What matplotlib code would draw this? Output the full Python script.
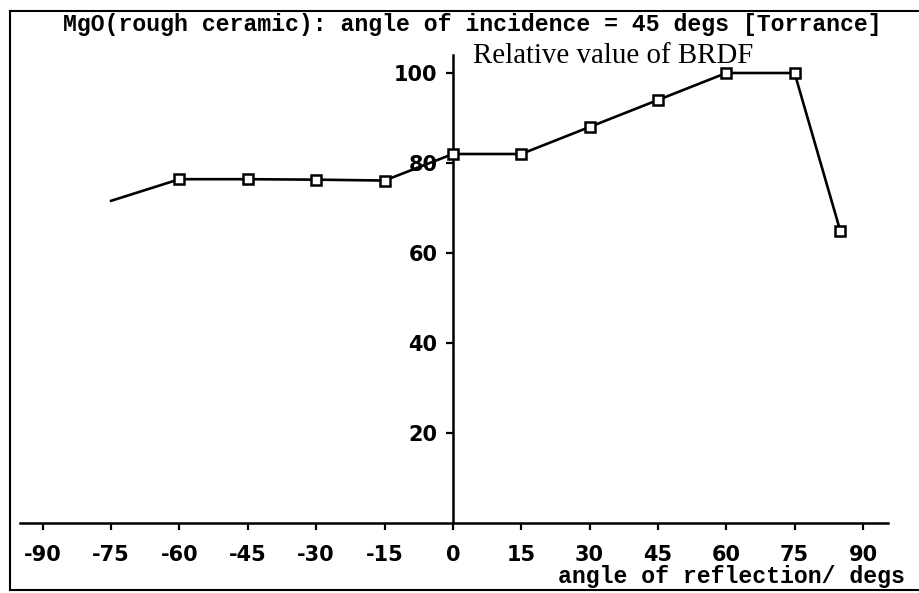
import matplotlib
matplotlib.use("Agg")
import matplotlib.pyplot as plt
from matplotlib.lines import Line2D

plt.rcParams["axes.unicode_minus"] = False

# BRDF of rough MgO ceramic, incidence 45 degrees (Torrance)
angles = [-75, -60, -45, -30, -15, 0, 15, 30, 45, 60, 75, 85]
brdf = [71.6, 76.4, 76.4, 76.3, 76.1, 82, 82, 88, 94, 100, 100, 65]
x_ticks = [-90, -75, -60, -45, -30, -15, 0, 15, 30, 45, 60, 75, 90]
y_ticks = [20, 40, 60, 80, 100]

title = "MgO(rough ceramic): angle of incidence = 45 degs [Torrance]"
ylabel = "Relative value of BRDF"
xlabel = "angle of reflection/ degs"

W, H = 919, 593
fig = plt.figure(figsize=(W / 100, H / 100), dpi=100)
fig.patch.set_facecolor("white")

ax = fig.add_axes([20 / W, (H - 523) / H, 868 / W, 468 / H])
ax.set_xlim(-95, 95.5)
ax.set_ylim(0, 104)

for s in ("top", "right"):
    ax.spines[s].set_visible(False)
ax.spines["left"].set_position(("data", 0))
ax.spines["left"].set_linewidth(1.8)
ax.spines["bottom"].set_linewidth(1.8)

ax.plot(angles, brdf, color="black", lw=1.9, marker="s", ms=7.5,
        mfc="white", mec="black", mew=1.8, markevery=list(range(1, len(angles))),
        zorder=3)

ax.set_xticks(x_ticks)
ax.set_xticklabels([str(v) for v in x_ticks])
ax.set_yticks(y_ticks)
ax.set_yticklabels([str(v) for v in y_ticks])
ax.tick_params(axis="x", direction="out", length=5, width=1.6, pad=11,
               labelsize=15)
ax.tick_params(axis="y", direction="out", length=5, width=1.6, pad=6,
               labelsize=15)
for lab in ax.get_xticklabels() + ax.get_yticklabels():
    lab.set_fontweight("bold")
    lab.set_family("DejaVu Sans")

fig.text(472 / W, 1 - 25 / H, title, ha="center", va="center",
         family="Liberation Mono", fontweight="bold", fontsize=16.7)
fig.text(473 / W, 1 - 63 / H, ylabel, ha="left", va="baseline",
         family="Liberation Serif", fontsize=20.8)
fig.text(905 / W, 1 - 576 / H, xlabel, ha="right", va="center",
         family="Liberation Mono", fontweight="bold", fontsize=16.7)

# outer frame
fig.add_artist(Line2D([10 / W, 10 / W], [1 - 11 / H, 1 - 590 / H],
                      transform=fig.transFigure, color="black", lw=1.5))
fig.add_artist(Line2D([10 / W, 1.0], [1 - 11 / H, 1 - 11 / H],
                      transform=fig.transFigure, color="black", lw=1.5))
fig.add_artist(Line2D([10 / W, 1.0], [1 - 590 / H, 1 - 590 / H],
                      transform=fig.transFigure, color="black", lw=1.5))

fig.savefig("out.png", dpi=100, facecolor="white")
